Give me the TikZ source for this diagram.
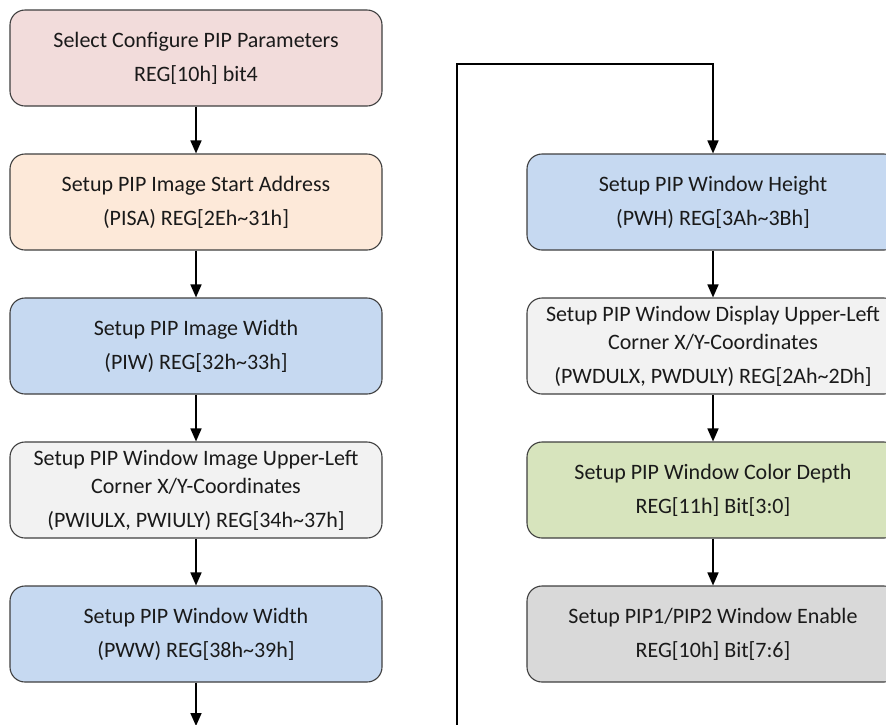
\documentclass[tikz,border=0pt]{standalone}
\usepackage{fontspec}
\setmainfont{Carlito}
\usetikzlibrary{arrows.meta}
\definecolor{cPink}{HTML}{F2DCDB}
\definecolor{cPeach}{HTML}{FDE9D9}
\definecolor{cBlue}{HTML}{C6D9F1}
\definecolor{cLight}{HTML}{F2F2F2}
\definecolor{cGreen}{HTML}{D7E4BD}
\definecolor{cGray}{HTML}{D9D9D9}
\definecolor{cBorder}{HTML}{3F3F3F}
\definecolor{cText}{HTML}{1A1A1A}
\tikzset{
  stepbox/.style={draw=cBorder, line width=1.1pt, rounded corners=15pt,
    minimum width=372pt, minimum height=96pt, inner sep=0pt, align=center,
    text=cText, font=\fontsize{22}{34}\selectfont},
  flow/.style={line width=1.6pt, -{Triangle[length=13pt,width=11pt]}},
}
\begin{document}
\begin{tikzpicture}[x=1pt,y=-1pt]
\useasboundingbox (0,0) rectangle (886,724);
\node[stepbox, fill=cPink]  (a) at (196,58)  {Select Configure PIP Parameters\\REG[10h] bit4};
\node[stepbox, fill=cPeach] (b) at (196,202) {Setup PIP Image Start Address\\(PISA) REG[2Eh\textasciitilde31h]};
\node[stepbox, fill=cBlue]  (c) at (196,346) {Setup PIP Image Width\\(PIW) REG[32h\textasciitilde33h]};
\node[stepbox, fill=cLight] (d) at (196,490) {Setup PIP Window Image Upper-Left\\[-6pt]Corner X/Y-Coordinates\\(PWIULX, PWIULY) REG[34h\textasciitilde37h]};
\node[stepbox, fill=cBlue]  (e) at (196,634) {Setup PIP Window Width\\(PWW) REG[38h\textasciitilde39h]};
\node[stepbox, fill=cBlue]  (f) at (713,202) {Setup PIP Window Height\\(PWH) REG[3Ah\textasciitilde3Bh]};
\node[stepbox, fill=cLight] (g) at (713,346) {Setup PIP Window Display Upper-Left\\[-6pt]Corner X/Y-Coordinates\\(PWDULX, PWDULY) REG[2Ah\textasciitilde2Dh]};
\node[stepbox, fill=cGreen] (h) at (713,490) {Setup PIP Window Color Depth\\REG[11h] Bit[3:0]};
\node[stepbox, fill=cGray]  (i) at (713,634) {Setup PIP1/PIP2 Window Enable\\REG[10h] Bit[7:6]};
\coordinate (out) at (196,726);
\coordinate (inb) at (457,730);
\coordinate (top) at (457,64);
\draw[flow] (a) -- (b);
\draw[flow] (b) -- (c);
\draw[flow] (c) -- (d);
\draw[flow] (d) -- (e);
\draw[flow] (e) -- (out);
\draw[flow] (inb) -- (top) -| (f);
\draw[flow] (f) -- (g);
\draw[flow] (g) -- (h);
\draw[flow] (h) -- (i);
\end{tikzpicture}
\end{document}
